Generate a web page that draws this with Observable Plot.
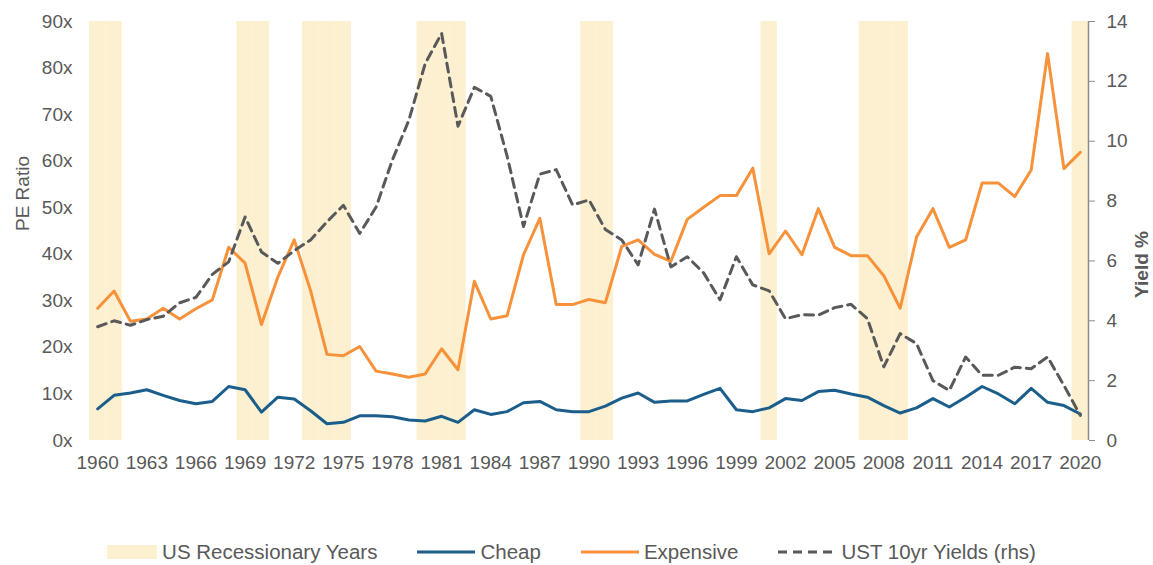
<!DOCTYPE html>
<html>
<head>
<meta charset="utf-8">
<script src="https://cdn.jsdelivr.net/npm/d3@7"></script>
<script src="https://cdn.jsdelivr.net/npm/@observablehq/plot@0.6"></script>
<style>
  body { margin: 0; background: white; font-family: 'Liberation Sans', Arial, sans-serif; }
  #legend { display: flex; justify-content: center; align-items: center; margin-top: 50px; height: 24px; padding-right: 10px; font-size: 20.5px; color: #595959; }
  .item { display: flex; align-items: center; margin: 0 20px; }
  .item svg { display: block; margin-right: 5px; }
</style>
</head>
<body>
<div id="chart"></div>
<div id="legend"></div>
<script>
const years = d3.range(1960, 2021);
const recessionYears = [1960, 1961, 1969, 1970, 1973, 1974, 1975, 1980, 1981, 1982, 1990, 1991, 2001, 2007, 2008, 2009, 2020];
const cheap = [
  6.8, 9.7, 10.2, 10.9, 9.7, 8.6, 7.9, 8.4, 11.6, 10.9,
  6.1, 9.3, 8.9, 6.4, 3.6, 3.9, 5.3, 5.3, 5.1, 4.4,
  4.2, 5.2, 3.9, 6.6, 5.6, 6.2, 8.1, 8.4, 6.6, 6.2,
  6.2, 7.4, 9.1, 10.2, 8.2, 8.5, 8.5, 9.9, 11.2, 6.6,
  6.2, 7.0, 9.0, 8.6, 10.5, 10.8, 10.0, 9.3, 7.5, 5.9,
  7.0, 9.0, 7.2, 9.3, 11.6, 10.0, 7.9, 11.2, 8.2, 7.5,
  5.7
];
const expensive = [
  28.4, 32.1, 25.6, 26.1, 28.4, 26.1, 28.3, 30.2, 41.5, 38.1,
  24.9, 35.1, 43.1, 32.2, 18.5, 18.2, 20.2, 14.9, 14.3, 13.6,
  14.3, 19.7, 15.2, 34.2, 26.1, 26.8, 39.9, 47.7, 29.2, 29.2,
  30.3, 29.6, 41.7, 43.1, 40.0, 38.5, 47.5, 50.1, 52.6, 52.6,
  58.5, 40.1, 45.0, 39.9, 49.8, 41.5, 39.7, 39.7, 35.4, 28.4,
  43.7, 49.8, 41.5, 43.1, 55.3, 55.3, 52.4, 58.1, 83.1, 58.4,
  61.9
];
const yields = [
  3.8, 4.0, 3.85, 4.04, 4.15, 4.6, 4.78, 5.55, 5.97, 7.47,
  6.3, 5.92, 6.34, 6.7, 7.31, 7.86, 6.92, 7.8, 9.38, 10.7,
  12.6, 13.6, 10.5, 11.8, 11.5, 9.5, 7.15, 8.9, 9.05, 7.87,
  8.04, 7.05, 6.7, 5.87, 7.73, 5.8, 6.14, 5.6, 4.7, 6.14,
  5.2, 5.0, 4.07, 4.2, 4.19, 4.44, 4.55, 4.07, 2.46, 3.57,
  3.24, 2.0, 1.67, 2.79, 2.18, 2.18, 2.45, 2.4, 2.79, 1.84,
  0.84
];
const yTicks = [0, 10, 20, 30, 40, 50, 60, 70, 80, 90];
const yieldTicks = [0, 2, 4, 6, 8, 10, 12, 14];
const xTicks = d3.range(1960, 2021, 3);

const colors = { recession: "#fcf0d0", cheap: "#1b5e8b", expensive: "#f7923a", yields: "#595959" };
const yMax = 90, yieldMax = 14;
const toLeft = v => v * yMax / yieldMax;

const cheapData = years.map((year, i) => ({ year, value: cheap[i] }));
const expData = years.map((year, i) => ({ year, value: expensive[i] }));
const yieldData = years.map((year, i) => ({ year, value: yields[i] }));

const chart = Plot.plot({
  width: 1153,
  height: 490,
  marginTop: 21,
  marginBottom: 50,
  marginLeft: 89,
  marginRight: 65,
  style: { fontFamily: "'Liberation Sans', Arial, sans-serif", fontSize: "19px", color: "#595959", background: "white" },
  x: { type: "linear", domain: [1959.5, 2020.5] },
  y: { domain: [0, yMax] },
  marks: [
    Plot.rect(recessionYears, { x1: d => d - 0.5, x2: d => d + 0.5, y1: 0, y2: yMax, fill: colors.recession }),
    Plot.line(cheapData, { x: "year", y: "value", stroke: colors.cheap, strokeWidth: 3 }),
    Plot.line(expData, { x: "year", y: "value", stroke: colors.expensive, strokeWidth: 3 }),
    Plot.line(yieldData, { x: "year", y: d => toLeft(d.value), stroke: colors.yields, strokeWidth: 3, strokeDasharray: "9,6" }),
    Plot.axisX(xTicks, { tickSize: 0, tickPadding: 15, tickFormat: d => String(d), label: null }),
    Plot.axisY(yTicks, { tickSize: 0, tickPadding: 17, tickFormat: d => d + "x", label: null }),
    Plot.axisY(yieldTicks.map(toLeft), { anchor: "right", tickSize: 6, tickPadding: 12, stroke: "#8c8c8c", fill: "#595959", tickFormat: d => String(Math.round(d * yieldMax / yMax)), label: null }),
    Plot.ruleX([2020.5], { stroke: "#8c8c8c", strokeWidth: 1.5 }),
    Plot.text(["PE Ratio"], { frameAnchor: "left", dx: -67, rotate: -90, fontSize: 19, fill: "#595959" }),
    Plot.text(["Yield %"], { frameAnchor: "right", dx: 53, rotate: -90, fontSize: 19, fontWeight: "bold", fill: "#595959" })
  ]
});
document.getElementById("chart").appendChild(chart);

const legendItems = [
  { label: "US Recessionary Years", type: "rect", color: colors.recession },
  { label: "Cheap", type: "line", color: colors.cheap },
  { label: "Expensive", type: "line", color: colors.expensive },
  { label: "UST 10yr Yields (rhs)", type: "dash", color: colors.yields }
];
const legend = d3.select("#legend");
for (const it of legendItems) {
  const div = legend.append("div").attr("class", "item");
  const w = it.type === "rect" ? 50 : 58;
  const s = div.append("svg").attr("width", w).attr("height", 16);
  if (it.type === "rect") {
    s.append("rect").attr("x", 0).attr("y", 1).attr("width", w).attr("height", 14).attr("fill", it.color);
  } else {
    s.append("line").attr("x1", 0).attr("x2", w).attr("y1", 8).attr("y2", 8)
      .attr("stroke", it.color).attr("stroke-width", 3)
      .attr("stroke-dasharray", it.type === "dash" ? "9,6" : null);
  }
  div.append("span").text(it.label);
}
</script>
</body>
</html>
